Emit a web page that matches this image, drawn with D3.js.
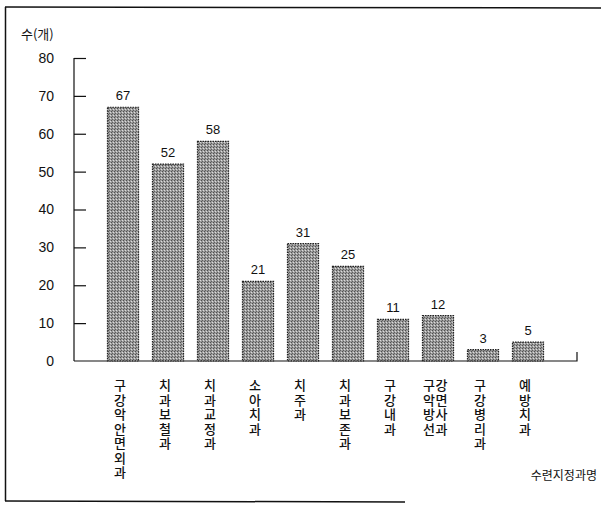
<!DOCTYPE html>
<html>
<head>
<meta charset="utf-8">
<script src="https://cdn.jsdelivr.net/npm/d3@7"></script>
<style>
  body { margin: 0; background: #fff; }
  text { font-family: "Liberation Sans", Arial, sans-serif; fill: #111; }
  .kr { font-family: "Noto Sans CJK KR", sans-serif; }
</style>
</head>
<body>
<script>
// 데이터
const categories = ["구강악안면외과", "치과보철과", "치과교정과", "소아치과", "치주과",
  "치과보존과", "구강내과", "구강악면방사선과", "구강병리과", "예방치과"];
const counts = [67, 52, 58, 21, 31, 25, 11, 12, 3, 5];
const yTicks = [0, 10, 20, 30, 40, 50, 60, 70, 80];

const svg = d3.select("body")
  .append("svg")
  .attr("width", 601)
  .attr("height", 505);

// 바 무늬 (망점 회색)
const pat = svg.append("defs").append("pattern")
  .attr("id", "dots")
  .attr("width", 3)
  .attr("height", 3)
  .attr("patternUnits", "userSpaceOnUse");
pat.append("rect").attr("width", 3).attr("height", 3).attr("fill", "#9c9c9c");
pat.append("rect").attr("x", 0).attr("y", 0).attr("width", 1).attr("height", 1).attr("fill", "#505050");
pat.append("rect").attr("x", 2).attr("y", 1).attr("width", 1).attr("height", 1).attr("fill", "#dcdcdc");
pat.append("rect").attr("x", 1).attr("y", 2).attr("width", 1).attr("height", 1).attr("fill", "#606060");

// 테두리
svg.append("line").attr("x1", 5).attr("y1", 7).attr("x2", 601).attr("y2", 8)
  .attr("stroke", "#111").attr("stroke-width", 1.5);
svg.append("line").attr("x1", 5.5).attr("y1", 7).attr("x2", 5.5).attr("y2", 501)
  .attr("stroke", "#111").attr("stroke-width", 1.5);
svg.append("line").attr("x1", 5).attr("y1", 501).attr("x2", 405).attr("y2", 502)
  .attr("stroke", "#111").attr("stroke-width", 1.5);

const x = d3.scaleBand()
  .domain(categories)
  .range([100.5, 550.5])
  .paddingInner(0.31)
  .paddingOuter(0.155);

const y = d3.scaleLinear()
  .domain([0, 80])
  .range([361, 58]);

const axisX = 74;

// y축
const yAxis = svg.append("g")
  .attr("transform", `translate(${axisX},0)`)
  .call(d3.axisLeft(y).tickValues(yTicks).tickSize(-12).tickPadding(20));
yAxis.select(".domain").attr("stroke", "#111").attr("stroke-width", 1.2)
  .attr("d", `M0,${y(80)}V${y(0)}`);
yAxis.selectAll(".tick line").attr("stroke", "#111").attr("stroke-width", 1.2)
  .filter(d => d === 0).remove();
yAxis.selectAll(".tick text")
  .attr("font-size", 14)
  .attr("fill", "#111")
  .style("font-family", "'Liberation Sans', Arial, sans-serif");

// x축 기준선
svg.append("path")
  .attr("d", `M${axisX},${y(0)}H577V${y(0) - 9}`)
  .attr("fill", "none")
  .attr("stroke", "#111")
  .attr("stroke-width", 1.2);

// 막대
svg.selectAll("rect.bar")
  .data(counts)
  .join("rect")
  .attr("class", "bar")
  .attr("x", (d, i) => x(categories[i]))
  .attr("y", d => y(d))
  .attr("width", x.bandwidth())
  .attr("height", d => y(0) - y(d))
  .attr("fill", "url(#dots)")
  .attr("stroke", "#222")
  .attr("stroke-width", 1.2)
  .attr("stroke-dasharray", "1.5,1");

// 값 표시
svg.selectAll("text.val")
  .data(counts)
  .join("text")
  .attr("class", "val")
  .attr("x", (d, i) => x(categories[i]) + x.bandwidth() / 2)
  .attr("y", d => y(d) - 7)
  .attr("text-anchor", "middle")
  .attr("font-size", 13)
  .text(d => d);

// 과명 (세로쓰기, 한 글자씩)
const step = 14.5;
categories.forEach((c, i) => {
  const cx = x(c) + x.bandwidth() / 2 - 3;
  const chars = c.split("");
  const twoCol = chars.length > 7; // 긴 이름은 두 줄로
  chars.forEach((ch, j) => {
    const col = twoCol ? j % 2 : 0;
    const row = twoCol ? Math.floor(j / 2) : j;
    svg.append("text")
      .attr("class", "kr")
      .attr("x", twoCol ? cx - 6 + col * 12.5 : cx)
      .attr("y", 390 + row * step)
      .attr("text-anchor", "middle")
      .attr("font-size", 13)
      .attr("font-weight", 500)
      .text(ch);
  });
});

// 축 제목
svg.append("text")
  .attr("class", "kr")
  .attr("x", 21)
  .attr("y", 39)
  .attr("font-size", 13)
  .text("수(개)");

svg.append("text")
  .attr("class", "kr")
  .attr("x", 597)
  .attr("y", 480)
  .attr("text-anchor", "end")
  .attr("font-size", 12)
  .text("수련지정과명");
</script>
</body>
</html>
